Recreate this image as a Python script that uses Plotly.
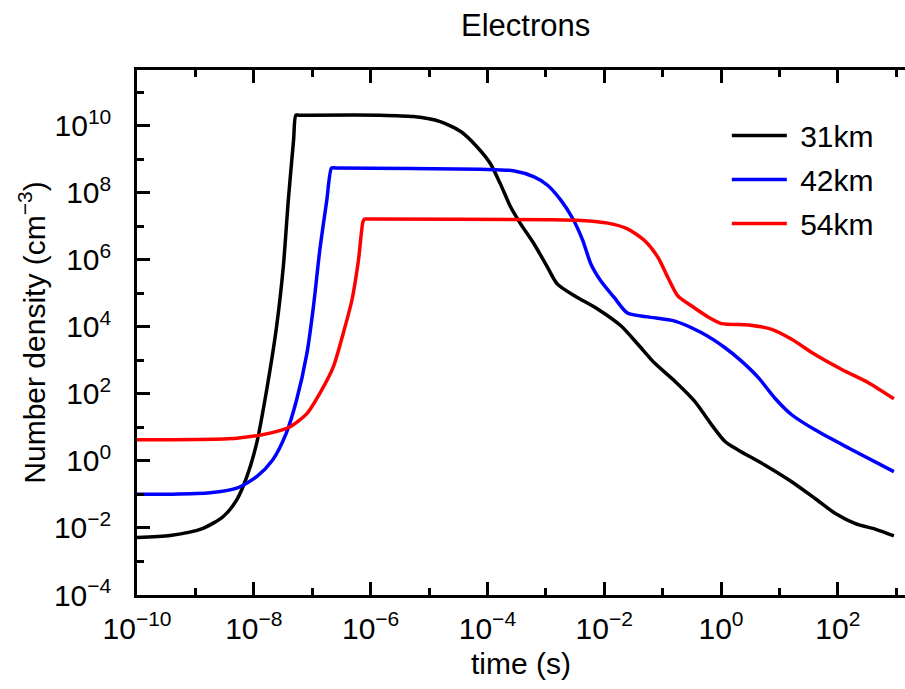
import plotly.graph_objects as go

# ---- data ----
time_31km = [1e-10, 3.7e-10, 1.35e-9, 3.0e-9, 5.1e-9, 7.6e-9, 1.12e-8, 1.66e-8, 2.45e-8, 3.2e-8,
             3.9e-8, 4.8e-8, 5.25e-8, 6.0e-8, 1.45e-6, 5.4e-6, 1.55e-5, 3.5e-5, 6.6e-5, 1.12e-4, 1.66e-4,
             2.5e-4, 3.7e-4, 6.3e-4, 1.07e-3, 1.58e-3, 3.1e-3, 7.8e-3, 1.95e-2, 3.8e-2, 7.2e-2,
             0.162, 0.355, 0.69, 1.17, 1.95, 5.6, 16.2, 40.7, 91, 200, 447, 912]
dens_31km = [5.2e-3, 6.0e-3, 9.8e-3, 2.2e-2, 6.9e-2, 0.34, 3.4, 132, 1.0e4, 6.3e5,
             6.2e7, 3.8e9, 2.1e10, 2.1e10, 2.1e10, 1.9e10, 1.35e10, 6.8e9, 2.4e9, 7.6e8, 1.9e8,
             3.8e7, 1.2e7, 3.0e6, 6.0e5, 1.9e5, 8.5e4, 3.4e4, 1.07e4, 3.0e3, 850,
             240, 60, 12, 3.8, 2.14, 0.76, 0.24, 0.076, 0.027, 0.0135, 9.1e-3, 5.8e-3]

time_42km = [1e-10, 3.7e-10, 1.78e-9, 5.1e-9, 1.12e-8, 2.1e-8, 3.6e-8, 5.4e-8, 8.1e-8, 1.05e-7,
             1.35e-7, 1.78e-7, 2.15e-7, 2.5e-7, 7.6e-5, 2.8e-4, 6.3e-4, 1.07e-3, 1.82e-3, 2.9e-3, 4.3e-3,
             5.9e-3, 8.7e-3, 1.48e-2, 2.5e-2, 5.6e-2, 0.162, 0.457, 1.17, 2.24, 4.4,
             8.3, 16.2, 40.7, 155, 912]
dens_42km = [0.102, 0.102, 0.112, 0.155, 0.34, 1.07, 6.8, 66, 1.6e3, 4.1e4,
             2.0e6, 6.2e7, 5.6e8, 5.6e8, 5.1e8, 4.6e8, 3.0e8, 1.7e8, 6.0e7, 1.7e7, 3.8e6,
             7.6e5, 2.4e5, 7.6e4, 2.6e4, 2.0e4, 1.5e4, 6.8e3, 2.4e3, 955, 302,
             76, 24, 8.5, 2.4, 0.48]

time_54km = [1e-10, 5.1e-9, 1.9e-8, 4.2e-8, 8.1e-8, 1.35e-7, 2.3e-7, 3.4e-7, 4.8e-7, 6.2e-7,
             7.4e-7, 7.9e-7, 9.0e-7, 1.07e-3, 4.0e-3, 1.15e-2, 2.5e-2, 4.9e-2, 8.3e-2, 0.123, 0.182,
             0.31, 0.60, 1.02, 2.95, 7.4, 16.2, 40.7, 117, 339, 912]
dens_54km = [4.3, 4.8, 6.8, 10.5, 26, 105, 646, 6.5e3, 6.5e4, 1.0e6,
             1.38e7, 1.66e7, 1.66e7, 1.58e7, 1.51e7, 1.26e7, 8.5e6, 3.8e6, 1.2e6, 3.0e5, 8.5e4,
             4.3e4, 2.0e4, 1.26e4, 1.15e4, 8.5e3, 4.3e3, 1.5e3, 537, 214, 72]

series = [("31km", time_31km, dens_31km, "#000000"),
          ("42km", time_42km, dens_42km, "#0000ff"),
          ("54km", time_54km, dens_54km, "#ff0000")]

x_major_exp = [-10, -8, -6, -4, -2, 0, 2]
x_minor_exp = [-9, -7, -5, -3, -1, 1, 3]
y_major_exp = [-4, -2, 0, 2, 4, 6, 8, 10]
y_minor_exp = [-3, -1, 1, 3, 5, 7, 9, 11]


def pow_label(e):
    s = str(e).replace("-", "\u2212")
    return f"10<sup>{s}</sup>"


FONT = "Liberation Sans, Arial, Helvetica, sans-serif"
fs = 30

fig = go.Figure()
for i, (name, t, n, c) in enumerate(series):
    fig.add_trace(go.Scatter(x=t, y=n, mode="lines", name="\u00a0" + name,
                             line=dict(color=c, width=3.5, shape="spline", smoothing=0.7),
                             legendgroup=str(i)))

axis_common = dict(
    type="log", showgrid=False, zeroline=False, showline=True, linecolor="black",
    linewidth=2.5, ticks="inside", ticklen=13, tickwidth=2.5, tickcolor="black",
    tickfont=dict(family=FONT, size=fs, color="black"), automargin=False,
)

fig.update_layout(
    width=905, height=689,
    margin=dict(l=137, r=0, t=70, b=94),
    paper_bgcolor="white", plot_bgcolor="white",
    font=dict(family=FONT, size=fs, color="black"),
    title=dict(text="Electrons", x=0.506, xref="paper", xanchor="center",
               y=0.964, yref="container", yanchor="middle",
               font=dict(family=FONT, size=31, color="black")),
    xaxis=dict(
        **axis_common,
        range=[-10, 3.15], mirror="ticks",
        tickmode="array", tickvals=[10.0 ** e for e in x_major_exp],
        ticktext=[pow_label(e) for e in x_major_exp],
        minor=dict(tickmode="array", tickvals=[10.0 ** e for e in x_minor_exp],
                   ticks="inside", ticklen=7, tickwidth=2.5, tickcolor="black", showgrid=False),
        title=dict(text="time (s)", font=dict(family=FONT, size=fs), standoff=10),
        ticklabelstandoff=5,
    ),
    yaxis=dict(
        **axis_common,
        range=[-4, 11.67], mirror=False,
        tickmode="array", tickvals=[10.0 ** e for e in y_major_exp],
        ticktext=[pow_label(e) for e in y_major_exp],
        minor=dict(tickmode="array", tickvals=[10.0 ** e for e in y_minor_exp],
                   ticks="inside", ticklen=7, tickwidth=2.5, tickcolor="black", showgrid=False),
        title=dict(text="Number density (cm<sup>\u22123</sup>)", font=dict(family=FONT, size=fs), standoff=0),
        ticklabelstandoff=17,
    ),
    legend=dict(x=0.768, y=0.925, xanchor="left", yanchor="top",
                bgcolor="rgba(0,0,0,0)", font=dict(family=FONT, size=fs),
                traceorder="grouped", tracegroupgap=2, itemwidth=55),
    showlegend=True,
)

fig.write_html("out.html", config={"displayModeBar": False},
               post_script="document.body.style.margin='0px';document.body.style.overflow='hidden';")
